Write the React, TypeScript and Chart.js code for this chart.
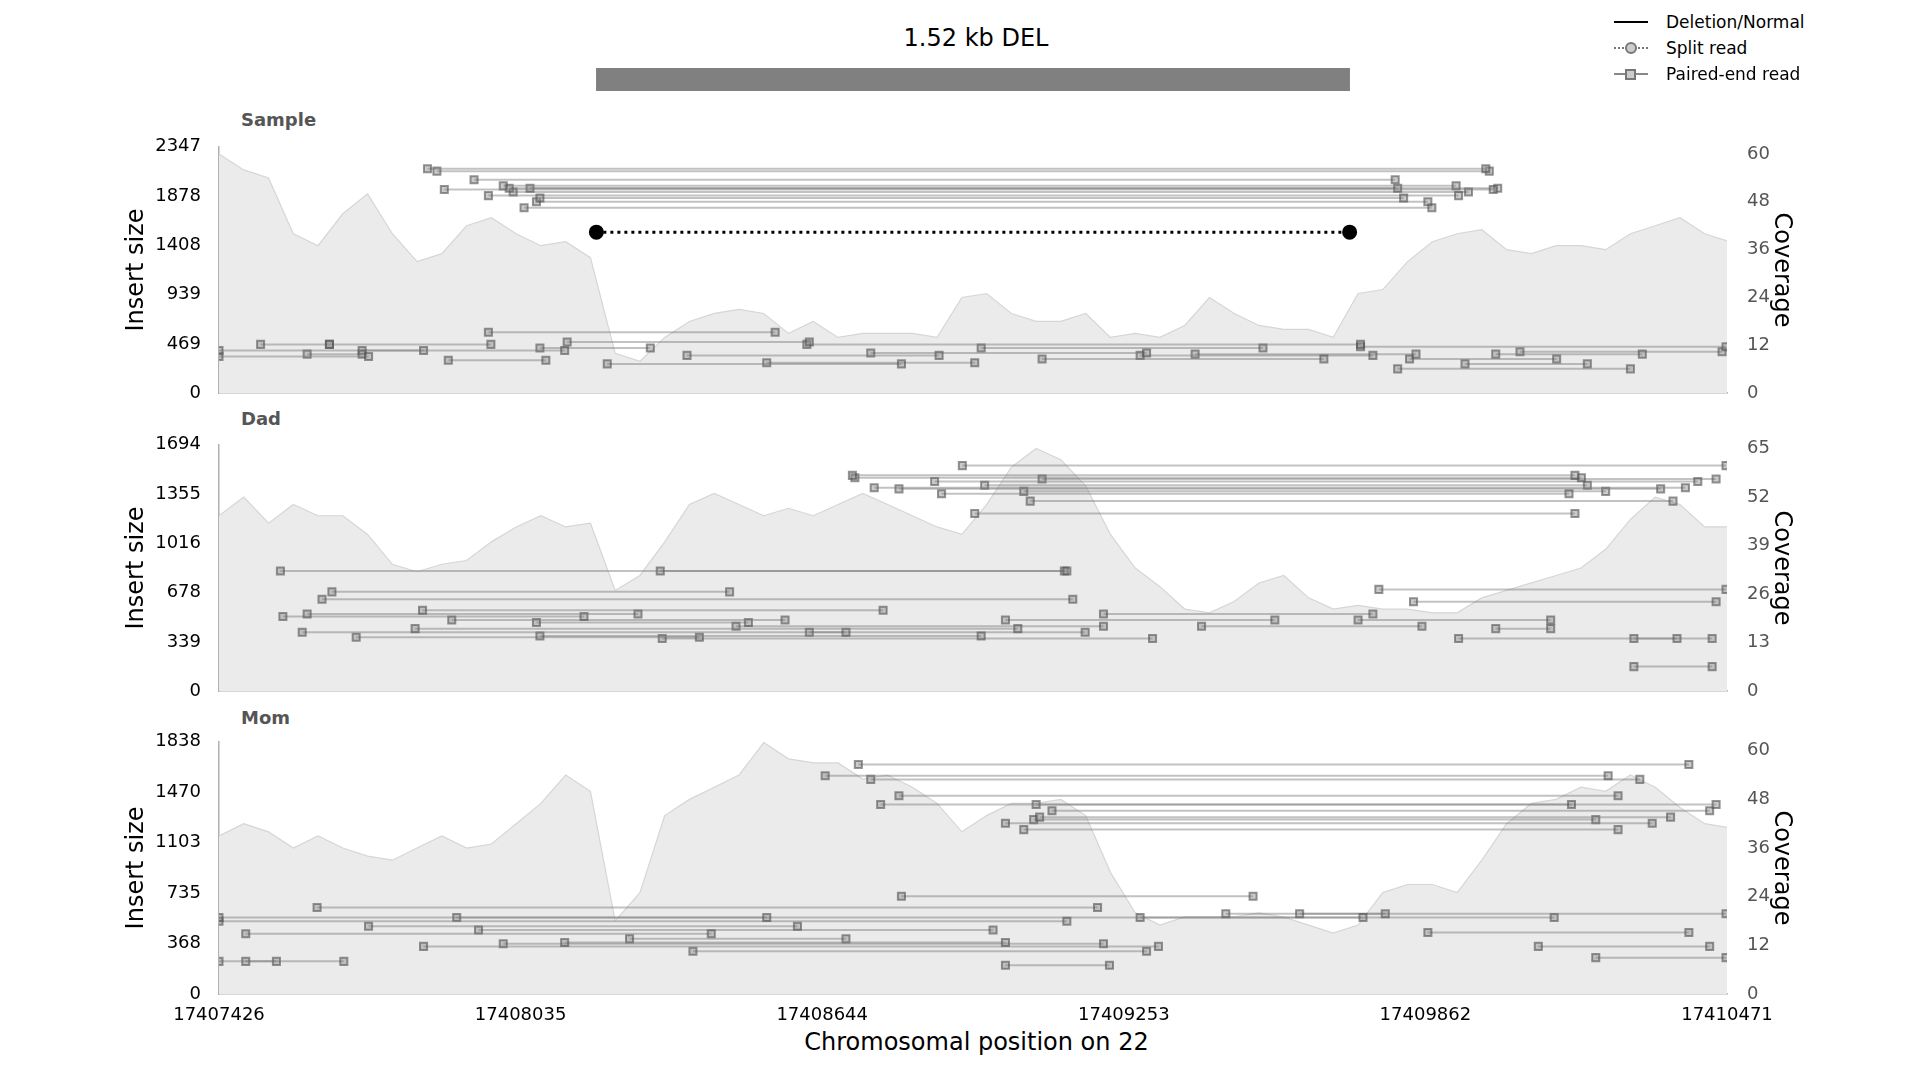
import { useEffect, useRef } from 'react'
import Chart from 'chart.js/auto'

const START = 17407426
const END = 17410471
const xTicks = [17407426, 17408035, 17408644, 17409253, 17409862, 17410471]
const delRange = [762, 2283] // offsets from START
const COV_STEP = 50

const sampleTicks = [0, 469, 939, 1408, 1878, 2347]
const dadTicks = [0, 339, 678, 1016, 1355, 1694]
const momTicks = [0, 368, 735, 1103, 1470, 1838]
const sampleCovTicks = [0, 12, 24, 36, 48, 60]
const dadCovTicks = [0, 13, 26, 39, 52, 65]
const momCovTicks = [0, 12, 24, 36, 48, 60]

const sampleCov = [60, 56, 54, 40, 37, 45, 50, 40, 33, 35, 42, 44, 40, 37, 38, 34, 10, 8, 14, 18, 20, 21, 20, 15, 18, 14, 15, 15, 15, 14, 24, 25, 20, 18, 18, 20, 14, 15, 14, 17, 24, 20, 17, 16, 16, 14, 25, 26, 33, 38, 40, 41, 36, 35, 37, 37, 36, 40, 42, 44, 40, 38]
const dadCov = [47, 52, 45, 50, 47, 47, 42, 34, 32, 34, 35, 40, 44, 47, 44, 45, 27, 31, 40, 50, 53, 50, 47, 49, 47, 50, 53, 50, 47, 44, 42, 50, 60, 65, 62, 55, 42, 33, 28, 22, 21, 24, 29, 31, 25, 22, 23, 22, 22, 21, 21, 25, 27, 29, 31, 33, 38, 46, 52, 50, 44, 44]
const momCov = [39, 42, 40, 36, 39, 36, 34, 33, 36, 39, 36, 37, 42, 47, 54, 50, 18, 25, 44, 48, 51, 54, 62, 58, 57, 57, 53, 54, 51, 47, 40, 44, 47, 47, 48, 44, 30, 20, 17, 19, 19, 19, 20, 19, 17, 15, 17, 25, 27, 27, 25, 33, 42, 47, 48, 51, 50, 54, 51, 46, 42, 41]

// [start offset, end offset, insert size]
const sampleReads = [
  [421, 2558, 2138], [440, 2565, 2115], [455, 2573, 1940], [515, 2375, 2033], [574, 2498, 1975],
  [586, 2380, 1952], [628, 2582, 1952], [648, 2392, 1859], [641, 2441, 1824], [616, 2449, 1766],
  [544, 2503, 1882], [594, 2523, 1917],
  [0, 698, 407], [0, 302, 349], [84, 223, 465], [178, 289, 372], [223, 549, 465], [289, 413, 407],
  [463, 660, 314], [544, 1123, 581], [648, 871, 430], [703, 1192, 488], [784, 1378, 279],
  [945, 1454, 360], [1106, 1526, 290], [1187, 2305, 465], [1316, 1873, 383], [1539, 2108, 430],
  [1662, 2231, 325], [1860, 2330, 360], [1971, 2417, 372], [2305, 3043, 442], [2380, 2850, 232],
  [2404, 2701, 325], [2516, 2763, 279], [2578, 2874, 372], [2627, 3035, 395],
]
const sampleSplit = [[762, 2283, 1534]]
const dadReads = [
  [1279, 2738, 1484], [1284, 2751, 1467], [1323, 2961, 1399], [1373, 2911, 1391], [1445, 2986, 1442],
  [1501, 3043, 1551], [1546, 2763, 1416], [1459, 2726, 1357], [1638, 2936, 1307], [1526, 2738, 1222],
  [1662, 3023, 1459], [1625, 2800, 1374],
  [124, 1712, 826], [891, 1707, 826], [228, 1031, 683], [208, 1724, 632], [411, 1341, 556],
  [178, 846, 531], [129, 737, 514], [470, 1143, 489], [641, 1069, 472], [396, 1613, 430],
  [168, 1266, 405], [648, 1539, 379], [277, 970, 371], [895, 1885, 362], [1044, 1786, 447],
  [1588, 2132, 489], [1786, 2330, 531], [1984, 2429, 447], [2342, 3043, 700], [2412, 3023, 615],
  [2503, 2944, 362], [2578, 2689, 430], [2857, 3015, 362], [2857, 3015, 169], [2300, 2689, 489],
  [1192, 1749, 405],
]
const momReads = [
  [1291, 2968, 1673], [1224, 2805, 1591], [1316, 2869, 1564], [1373, 2825, 1445], [1336, 2731, 1381],
  [1650, 3023, 1381], [1682, 3010, 1335], [1657, 2931, 1289], [1588, 2894, 1244], [1625, 2825, 1198],
  [1645, 2780, 1271],
  [0, 1106, 558], [198, 1774, 631], [1378, 2088, 713], [0, 1712, 530], [480, 2310, 558],
  [54, 994, 439], [302, 1168, 494], [524, 1563, 466], [698, 1588, 375], [0, 252, 238],
  [54, 116, 238], [413, 1897, 347], [574, 1786, 366], [957, 1873, 311], [1588, 1798, 210],
  [2182, 3043, 585], [2441, 2968, 448], [2664, 3010, 347], [2780, 3043, 265], [829, 1266, 402],
  [2033, 2355, 585], [1860, 2696, 558],
]

const FONT = 'DejaVu Sans'
const LEFT = 122
const WIDTH = 1674
const LEFT_AXIS = 97
const RIGHT_AXIS = 69

function Panel({ top, height, ticks, covTicks, covMax, cov, reads, split, showX }: any) {
  const ref = useRef<HTMLCanvasElement>(null)
  useEffect(() => {
    if (!ref.current) return
    const datasets: any[] = []
    reads.forEach((r: number[]) => {
      datasets.push({
        data: [{ x: START + r[0], y: r[2] }, { x: START + r[1], y: r[2] }],
        yAxisID: 'y', borderColor: 'rgba(120,120,120,0.45)', borderWidth: 2,
        pointStyle: 'rect', pointRadius: 5, pointBackgroundColor: 'rgba(140,140,140,0.45)',
        pointBorderColor: 'rgba(80,80,80,0.6)', pointBorderWidth: 2, order: 1,
      })
    })
    ;(split || []).forEach((r: number[]) => {
      datasets.push({
        data: [{ x: START + r[0], y: r[2] }, { x: START + r[1], y: r[2] }],
        yAxisID: 'y', borderColor: '#000', borderWidth: 3, borderDash: [3, 4],
        pointStyle: 'circle', pointRadius: 6, pointBackgroundColor: '#000', pointBorderColor: '#000', order: 0,
      })
    })
    datasets.push({
      data: cov.map((v: number, i: number) => ({ x: START + i * COV_STEP, y: v })),
      yAxisID: 'y1', borderColor: '#d6d6d6', borderWidth: 1.2, backgroundColor: '#ebebeb',
      fill: 'origin', pointRadius: 0, order: 10,
    })
    const chart = new Chart(ref.current, {
      type: 'line',
      data: { datasets },
      options: {
        animation: false, responsive: false, maintainAspectRatio: false,
        layout: { padding: { top: 12, bottom: showX ? 0 : 4 } },
        plugins: { legend: { display: false }, tooltip: { enabled: false } },
        scales: {
          x: {
            type: 'linear', min: START, max: END,
            afterBuildTicks: (s: any) => { s.ticks = xTicks.map(v => ({ value: v })) },
            afterFit: (s: any) => { s.height = showX ? 30 : 0 },
            ticks: { display: showX, color: '#000', font: { family: FONT, size: 18 }, padding: 3, maxRotation: 0, callback: (v: any) => String(v) },
            grid: { display: false },
            border: { display: true, color: '#b0b0b0', width: 1.5 },
          },
          y: {
            position: 'left', min: 0, max: ticks[ticks.length - 1],
            afterBuildTicks: (s: any) => { s.ticks = ticks.map((v: number) => ({ value: v })) },
            afterFit: (s: any) => { s.width = LEFT_AXIS },
            ticks: { color: '#000', font: { family: FONT, size: 18 }, padding: 10, callback: (v: any) => String(v) },
            grid: { display: false },
            border: { display: true, color: '#b0b0b0', width: 1.5 },
            title: { display: true, text: 'Insert size', color: '#000', font: { family: FONT, size: 24 }, padding: 0 },
          },
          y1: {
            position: 'right', min: 0, max: covMax,
            afterBuildTicks: (s: any) => { s.ticks = covTicks.map((v: number) => ({ value: v })) },
            afterFit: (s: any) => { s.width = RIGHT_AXIS },
            ticks: { color: '#555', font: { family: FONT, size: 18 }, padding: 12 },
            grid: { display: false },
            border: { display: false },
            title: { display: true, text: 'Coverage', color: '#000', font: { family: FONT, size: 24 }, padding: 0 },
          },
        },
      } as any,
    })
    return () => chart.destroy()
  }, [])
  return <canvas ref={ref} width={WIDTH} height={height} style={{ position: 'absolute', left: LEFT, top, width: WIDTH, height }} />
}

function Header() {
  const ref = useRef<HTMLCanvasElement>(null)
  useEffect(() => {
    if (!ref.current) return
    const chart = new Chart(ref.current, {
      type: 'bar',
      data: { labels: ['DEL'], datasets: [{ data: [[START + delRange[0], START + delRange[1]]], backgroundColor: '#808080', barPercentage: 1, categoryPercentage: 1 }] },
      options: {
        animation: false, responsive: false, indexAxis: 'y',
        layout: { padding: { left: LEFT_AXIS, right: RIGHT_AXIS, top: 0, bottom: 0 } },
        plugins: { legend: { display: false }, tooltip: { enabled: false } },
        scales: { x: { type: 'linear', min: START, max: END, display: false }, y: { display: false } },
      } as any,
    })
    return () => chart.destroy()
  }, [])
  return <canvas ref={ref} width={WIDTH} height={23} style={{ position: 'absolute', left: LEFT, top: 68, width: WIDTH, height: 23 }} />
}

const lab: any = { position: 'absolute', fontFamily: FONT, fontSize: 18, color: '#555', fontWeight: 'bold' }
const legRow: any = { position: 'absolute', left: 1614, display: 'flex', alignItems: 'center', fontFamily: FONT, fontSize: 17, color: '#000' }

function LegendMark({ kind }: { kind: string }) {
  const line = kind === 'del' ? '2.5px solid #000' : kind === 'split' ? '2.5px dotted #777' : '2px solid #888'
  return (
    <div style={{ position: 'relative', width: 34, height: 12, marginRight: 18 }}>
      <div style={{ position: 'absolute', left: 0, right: 0, top: 5, borderTop: line }} />
      {kind === 'split' && <div style={{ position: 'absolute', left: 11, top: 0, width: 8, height: 8, borderRadius: '50%', border: '2px solid #777', background: '#ccc' }} />}
      {kind === 'pe' && <div style={{ position: 'absolute', left: 11, top: 1, width: 7, height: 7, border: '2px solid #777', background: '#ccc' }} />}
    </div>
  )
}

export default function App() {
  useEffect(() => { document.body.style.margin = '0' }, [])
  return (
    <div style={{ position: 'relative', width: 1920, height: 1080, background: '#fff', overflow: 'hidden' }}>
      <div style={{ position: 'absolute', left: 0, width: 1952, top: 24, textAlign: 'center', fontFamily: FONT, fontSize: 24 }}>1.52 kb DEL</div>
      <Header />
      <div style={{ ...legRow, top: 12 }}><LegendMark kind="del" />Deletion/Normal</div>
      <div style={{ ...legRow, top: 38 }}><LegendMark kind="split" />Split read</div>
      <div style={{ ...legRow, top: 64 }}><LegendMark kind="pe" />Paired-end read</div>
      <div style={{ ...lab, left: 241, top: 109 }}>Sample</div>
      <div style={{ ...lab, left: 241, top: 408 }}>Dad</div>
      <div style={{ ...lab, left: 241, top: 707 }}>Mom</div>
      <Panel top={124} height={292} ticks={sampleTicks} covTicks={sampleCovTicks} covMax={61.8} cov={sampleCov} reads={sampleReads} split={sampleSplit} showX={false} />
      <Panel top={422} height={292} ticks={dadTicks} covTicks={dadCovTicks} covMax={66} cov={dadCov} reads={dadReads} showX={false} />
      <Panel top={719} height={305} ticks={momTicks} covTicks={momCovTicks} covMax={62.2} cov={momCov} reads={momReads} showX={true} />
      <div style={{ position: 'absolute', left: 219, width: 1515, top: 1028, textAlign: 'center', fontFamily: FONT, fontSize: 24 }}>Chromosomal position on 22</div>
    </div>
  )
}
